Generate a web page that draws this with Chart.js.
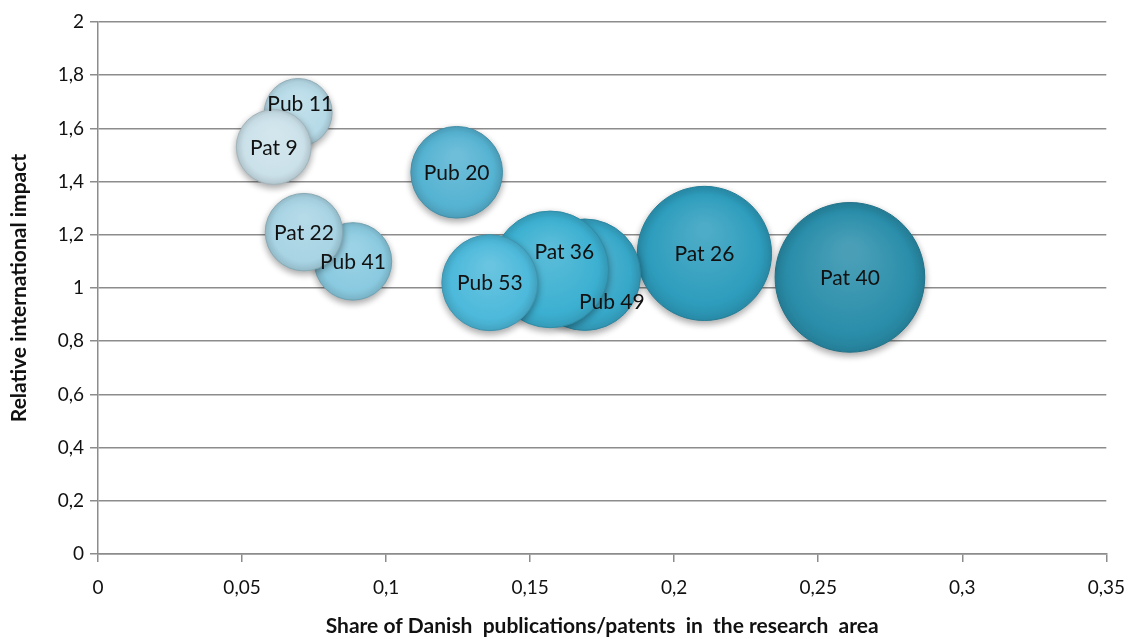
<html lang="en">
<head>
  <meta charset="utf-8" />
  <title>Bubble chart</title>
  <style>
    * { margin: 0; padding: 0; box-sizing: border-box; }
    body { width: 1139px; height: 639px; background: #ffffff; overflow: hidden; }
    .wrapper { position: relative; width: 1139px; height: 639px; }
  </style>
</head>
<body>
  <div class="wrapper">
    <canvas id="chart" width="1139" height="639"></canvas>
  </div>
  <script src="https://cdn.jsdelivr.net/npm/chart.js@4/dist/chart.umd.min.js"></script>
  <script>
    // data (drawn in this order, later ones on top)
    const labels = ["Pat 40", "Pat 26", "Pub 49", "Pat 36", "Pub 53", "Pub 20", "Pub 41", "Pat 22", "Pub 11", "Pat 9"];
    const share = [0.261, 0.2105, 0.169, 0.157, 0.136, 0.1245, 0.0885, 0.0715, 0.0695, 0.061];
    const impact = [1.04, 1.13, 1.05, 1.07, 1.02, 1.435, 1.10, 1.21, 1.66, 1.53];
    const bubbleSize = [56, 45, 31, 34, 23, 21, 15, 15, 11.5, 14];
    const colors = ["#2a8eaa", "#2e9dbd", "#37a8c9", "#3cb0d1", "#4db9db", "#55b3d2", "#8acae0", "#a8d4e4", "#b6dae7", "#cbe1ea"];
    const xTicks = [0, 0.05, 0.1, 0.15, 0.2, 0.25, 0.3, 0.35];
    const yTicks = [0, 0.2, 0.4, 0.6, 0.8, 1, 1.2, 1.4, 1.6, 1.8, 2];

    const gridColor = "#8c8c8c";
    const fontFamily = "Lato, 'Liberation Sans', sans-serif";
    const labelNudge = { "Pat 36": [14, -18], "Pub 49": [27, 27], "Pub 11": [2, -9] };

    const points = labels.map((l, i) => ({ x: share[i], y: impact[i], r: Math.sqrt(bubbleSize[i]) * 10 }));

    function shade(hex, amt) {
      const n = parseInt(hex.slice(1), 16);
      let r = n >> 16, g = (n >> 8) & 255, b = n & 255;
      const t = amt < 0 ? 0 : 255, p = Math.abs(amt);
      r = Math.round(r + (t - r) * p); g = Math.round(g + (t - g) * p); b = Math.round(b + (t - b) * p);
      return `rgb(${r},${g},${b})`;
    }

    function fill(context) {
      const chart = context.chart;
      const i = context.dataIndex;
      if (!chart.chartArea || i === undefined) return colors[i] || "#4db9db";
      const cx = chart.scales.x.getPixelForValue(share[i]);
      const cy = chart.scales.y.getPixelForValue(impact[i]);
      const r = points[i].r;
      const g = chart.ctx.createRadialGradient(cx, cy - r * 0.35, r * 0.1, cx, cy, r);
      g.addColorStop(0, shade(colors[i], 0.15));
      g.addColorStop(0.8, colors[i]);
      g.addColorStop(1, shade(colors[i], -0.1));
      return g;
    }

    const shadowPlugin = {
      id: "shadow",
      beforeDatasetsDraw(chart) {
        const c = chart.ctx;
        c.save();
        c.shadowColor = "rgba(0,0,0,0.35)";
        c.shadowBlur = 7;
        c.shadowOffsetY = 3;
      },
      afterDatasetsDraw(chart) {
        chart.ctx.restore();
      }
    };

    const labelPlugin = {
      id: "bubbleLabels",
      afterDatasetsDraw(chart) {
        const c = chart.ctx;
        const meta = chart.getDatasetMeta(0);
        c.save();
        c.font = "21px " + fontFamily;
        c.fillStyle = "#111111";
        c.textAlign = "center";
        c.textBaseline = "middle";
        meta.data.forEach((el, i) => {
          const n = labelNudge[labels[i]] || [0, 0];
          c.fillText(labels[i], el.x + n[0], el.y + n[1] + 1);
        });
        c.restore();
      }
    };

    const fmt = (v) => String(Number(v.toFixed(2))).replace(".", ",");

    new Chart(document.getElementById("chart"), {
      type: "bubble",
      plugins: [shadowPlugin, labelPlugin],
      data: {
        labels: labels,
        datasets: [{
          data: points,
          backgroundColor: fill,
          borderColor: (ctx) => shade(colors[ctx.dataIndex] || "#4db9db", -0.2),
          borderWidth: 1
        }]
      },
      options: {
        responsive: false,
        animation: false,
        layout: { autoPadding: false, padding: { top: 22, right: 31, left: 0, bottom: 0 } },
        plugins: { legend: { display: false }, tooltip: { enabled: false } },
        scales: {
          x: {
            type: "linear",
            min: 0,
            max: 0.35,
            afterBuildTicks: (s) => { s.ticks = xTicks.map(v => ({ value: v })); },
            afterFit: (s) => { s.height = 85; },
            grid: { drawOnChartArea: false, drawTicks: true, tickLength: 8, color: gridColor, lineWidth: 1.5 },
            border: { color: gridColor, width: 1.5 },
            ticks: {
              padding: 14,
              color: "#111111",
              font: { family: fontFamily, size: 19 },
              callback: (v) => fmt(v)
            },
            title: {
              display: true,
              text: "Share of Danish  publications/patents  in  the research  area",
              color: "#111111",
              font: { family: fontFamily, size: 21, weight: "bold" },
              padding: { top: 0, bottom: 0 }
            }
          },
          y: {
            type: "linear",
            min: 0,
            max: 2,
            afterBuildTicks: (s) => { s.ticks = yTicks.map(v => ({ value: v })); },
            afterFit: (s) => { s.width = 98; },
            grid: { color: gridColor, lineWidth: 1.5, tickLength: 8 },
            border: { color: gridColor, width: 1.5 },
            ticks: {
              padding: 6,
              color: "#111111",
              font: { family: fontFamily, size: 19 },
              callback: (v) => fmt(v)
            },
            title: {
              display: true,
              text: "Relative international impact",
              color: "#111111",
              font: { family: fontFamily, size: 21, weight: "bold" },
              padding: { top: 7, bottom: 0 }
            }
          }
        }
      }
    });
  </script>
</body>
</html>
